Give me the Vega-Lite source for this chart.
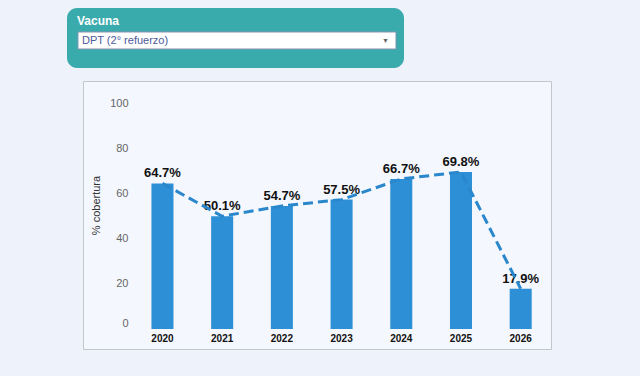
{
  "$schema": "https://vega.github.io/schema/vega-lite/v6.json",
  "background": "#eef2fa",
  "padding": {"left": 67, "top": 8, "right": 90, "bottom": 28},
  "autosize": {"type": "pad"},
  "spacing": 12,
  "config": {
    "font": "Liberation Sans",
    "view": {"stroke": null}
  },
  "vconcat": [
    {
      "data": {"values": [{"vacuna": "DPT (2° refuerzo)", "campo": "Vacuna"}]},
      "width": 337,
      "height": 60,
      "view": {"fill": "#3aabad", "stroke": null, "cornerRadius": 10},
      "resolve": {"scale": {"y": "independent"}},
      "layer": [
        {
          "mark": {"type": "rect", "fill": "#ffffff", "stroke": "#8a93b0", "strokeWidth": 1},
          "encoding": {
            "x": {"field": "vacuna", "type": "nominal", "axis": null,
                  "scale": {"paddingInner": 0, "paddingOuter": 0.0299, "align": 0.579}},
            "y": {"field": "vacuna", "type": "nominal", "axis": null,
                  "scale": {"paddingInner": 0.2093, "paddingOuter": 1, "align": 0.558}}
          }
        },
        {
          "mark": {"type": "text", "align": "left", "baseline": "middle", "dx": 4, "fontSize": 11, "color": "#4b5a9c"},
          "encoding": {
            "x": {"field": "vacuna", "type": "nominal", "bandPosition": 0},
            "y": {"field": "vacuna", "type": "nominal", "axis": null,
                  "scale": {"padding": 1, "align": 0.542}},
            "text": {"field": "vacuna"}
          }
        },
        {
          "mark": {"type": "text", "align": "right", "baseline": "middle", "dx": -7, "fontSize": 7, "color": "#666666", "text": "▼"},
          "encoding": {
            "x": {"field": "vacuna", "type": "nominal", "bandPosition": 1},
            "y": {"field": "vacuna", "type": "nominal", "axis": null,
                  "scale": {"padding": 1, "align": 0.542}}
          }
        },
        {
          "mark": {"type": "text", "align": "left", "baseline": "middle", "dx": -1, "fontSize": 12, "fontWeight": "bold", "color": "#ffffff"},
          "encoding": {
            "x": {"field": "vacuna", "type": "nominal", "bandPosition": 0},
            "y": {"field": "campo", "type": "nominal", "axis": null,
                  "scale": {"padding": 1, "align": 0.217}},
            "text": {"field": "campo"}
          }
        }
      ]
    },
    {
      "spacing": 0,
      "hconcat": [
        {
          "data": {"values": [{"a": 1}]},
          "width": 15,
          "height": 268,
          "mark": {"type": "rect", "opacity": 0}
        },
        {
          "width": 468,
          "height": 268,
          "view": {"fill": "#f4f7fd", "stroke": "#c3c6cc", "strokeWidth": 1},
          "data": {
            "values": [
              {"year": "2020", "value": 64.7, "label": "64.7%"},
              {"year": "2021", "value": 50.1, "label": "50.1%"},
              {"year": "2022", "value": 54.7, "label": "54.7%"},
              {"year": "2023", "value": 57.5, "label": "57.5%"},
              {"year": "2024", "value": 66.7, "label": "66.7%"},
              {"year": "2025", "value": 69.8, "label": "69.8%"},
              {"year": "2026", "value": 17.9, "label": "17.9%"}
            ]
          },
          "encoding": {
            "x": {
              "field": "year",
              "type": "nominal",
              "scale": {"paddingInner": 0.631, "paddingOuter": 0.735, "align": 0.78},
              "axis": {
                "title": null,
                "labelAngle": 0,
                "domain": false,
                "ticks": false,
                "offset": -20,
                "labelPadding": 4,
                "labelFontSize": 10,
                "labelFontWeight": "bold",
                "labelColor": "#111111"
              }
            }
          },
          "layer": [
            {
              "mark": {"type": "bar", "color": "#2d8fd5"},
              "encoding": {
                "y": {
                  "field": "value",
                  "type": "quantitative",
                  "scale": {"domain": [-8.89, 110.22], "nice": false},
                  "axis": {
                    "title": "% cobertura",
                    "values": [0, 20, 40, 60, 80, 100],
                    "grid": false,
                    "domain": false,
                    "ticks": false,
                    "offset": -49,
                    "labelPadding": 4,
                    "labelFontSize": 11,
                    "labelColor": "#666666",
                    "labelBaseline": {"condition": {"test": "datum.value === 0", "value": "bottom"}, "value": "middle"},
                    "titleX": -36,
                    "titleY": 124,
                    "titleAngle": -90,
                    "titleAlign": "center",
                    "titleBaseline": "middle",
                    "titleFontSize": 11,
                    "titleFontWeight": "normal",
                    "titleColor": "#333333"
                  }
                }
              }
            },
            {
              "mark": {"type": "text", "baseline": "bottom", "dy": -3, "fontSize": 13, "fontWeight": "bold", "color": "#111111"},
              "encoding": {
                "y": {"field": "value", "type": "quantitative"},
                "text": {"field": "label"}
              }
            },
            {
              "mark": {"type": "line", "color": "#2a87cc", "strokeWidth": 3, "strokeDash": [10, 5]},
              "encoding": {"y": {"field": "value", "type": "quantitative"}}
            }
          ]
        }
      ]
    }
  ]
}
